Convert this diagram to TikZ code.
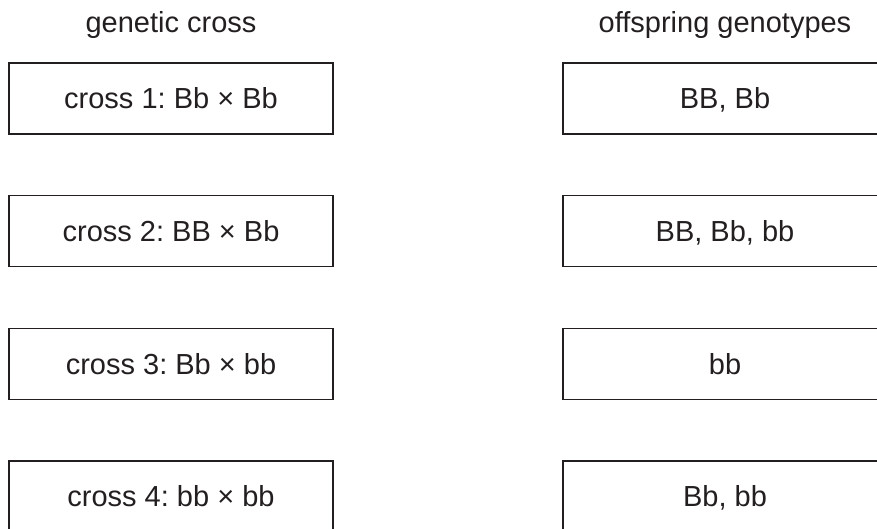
\documentclass[tikz,border=0pt]{standalone}
\usepackage{fontspec}
\setmainfont{Liberation Sans}
\frenchspacing
\definecolor{ink}{HTML}{231F20}
\begin{document}
\begin{tikzpicture}[x=1pt,y=-1pt,
  box/.style={draw=ink, line width=1.6pt, minimum width=324pt, minimum height=71pt,
    inner sep=0pt, text=ink, font=\fontsize{29}{33}\selectfont, text height=20.8pt, text depth=0pt},
  head/.style={text=ink, font=\fontsize{29}{33}\selectfont, inner sep=0pt, text height=20.8pt, text depth=0pt}]
\useasboundingbox (0,0) rectangle (877,528);
\clip (0,0) rectangle (877,528);
\node[head] (h1) at (171,22) {genetic cross};
\node[head] (h2) at (725,22) {offspring genotypes};
\node[box] (c1) at (171,98.5) {cross 1: Bb × Bb};
\node[box] (c2) at (171,231) {cross 2: BB × Bb};
\node[box] (c3) at (171,364) {cross 3: Bb × bb};
\node[box] (c4) at (171,496.5) {cross 4: bb × bb};
\node[box] (o1) at (725,98.5) {BB, Bb};
\node[box] (o2) at (725,231) {BB, Bb, bb};
\node[box] (o3) at (725,364) {bb};
\node[box] (o4) at (725,496.5) {Bb, bb};
\end{tikzpicture}
\end{document}
